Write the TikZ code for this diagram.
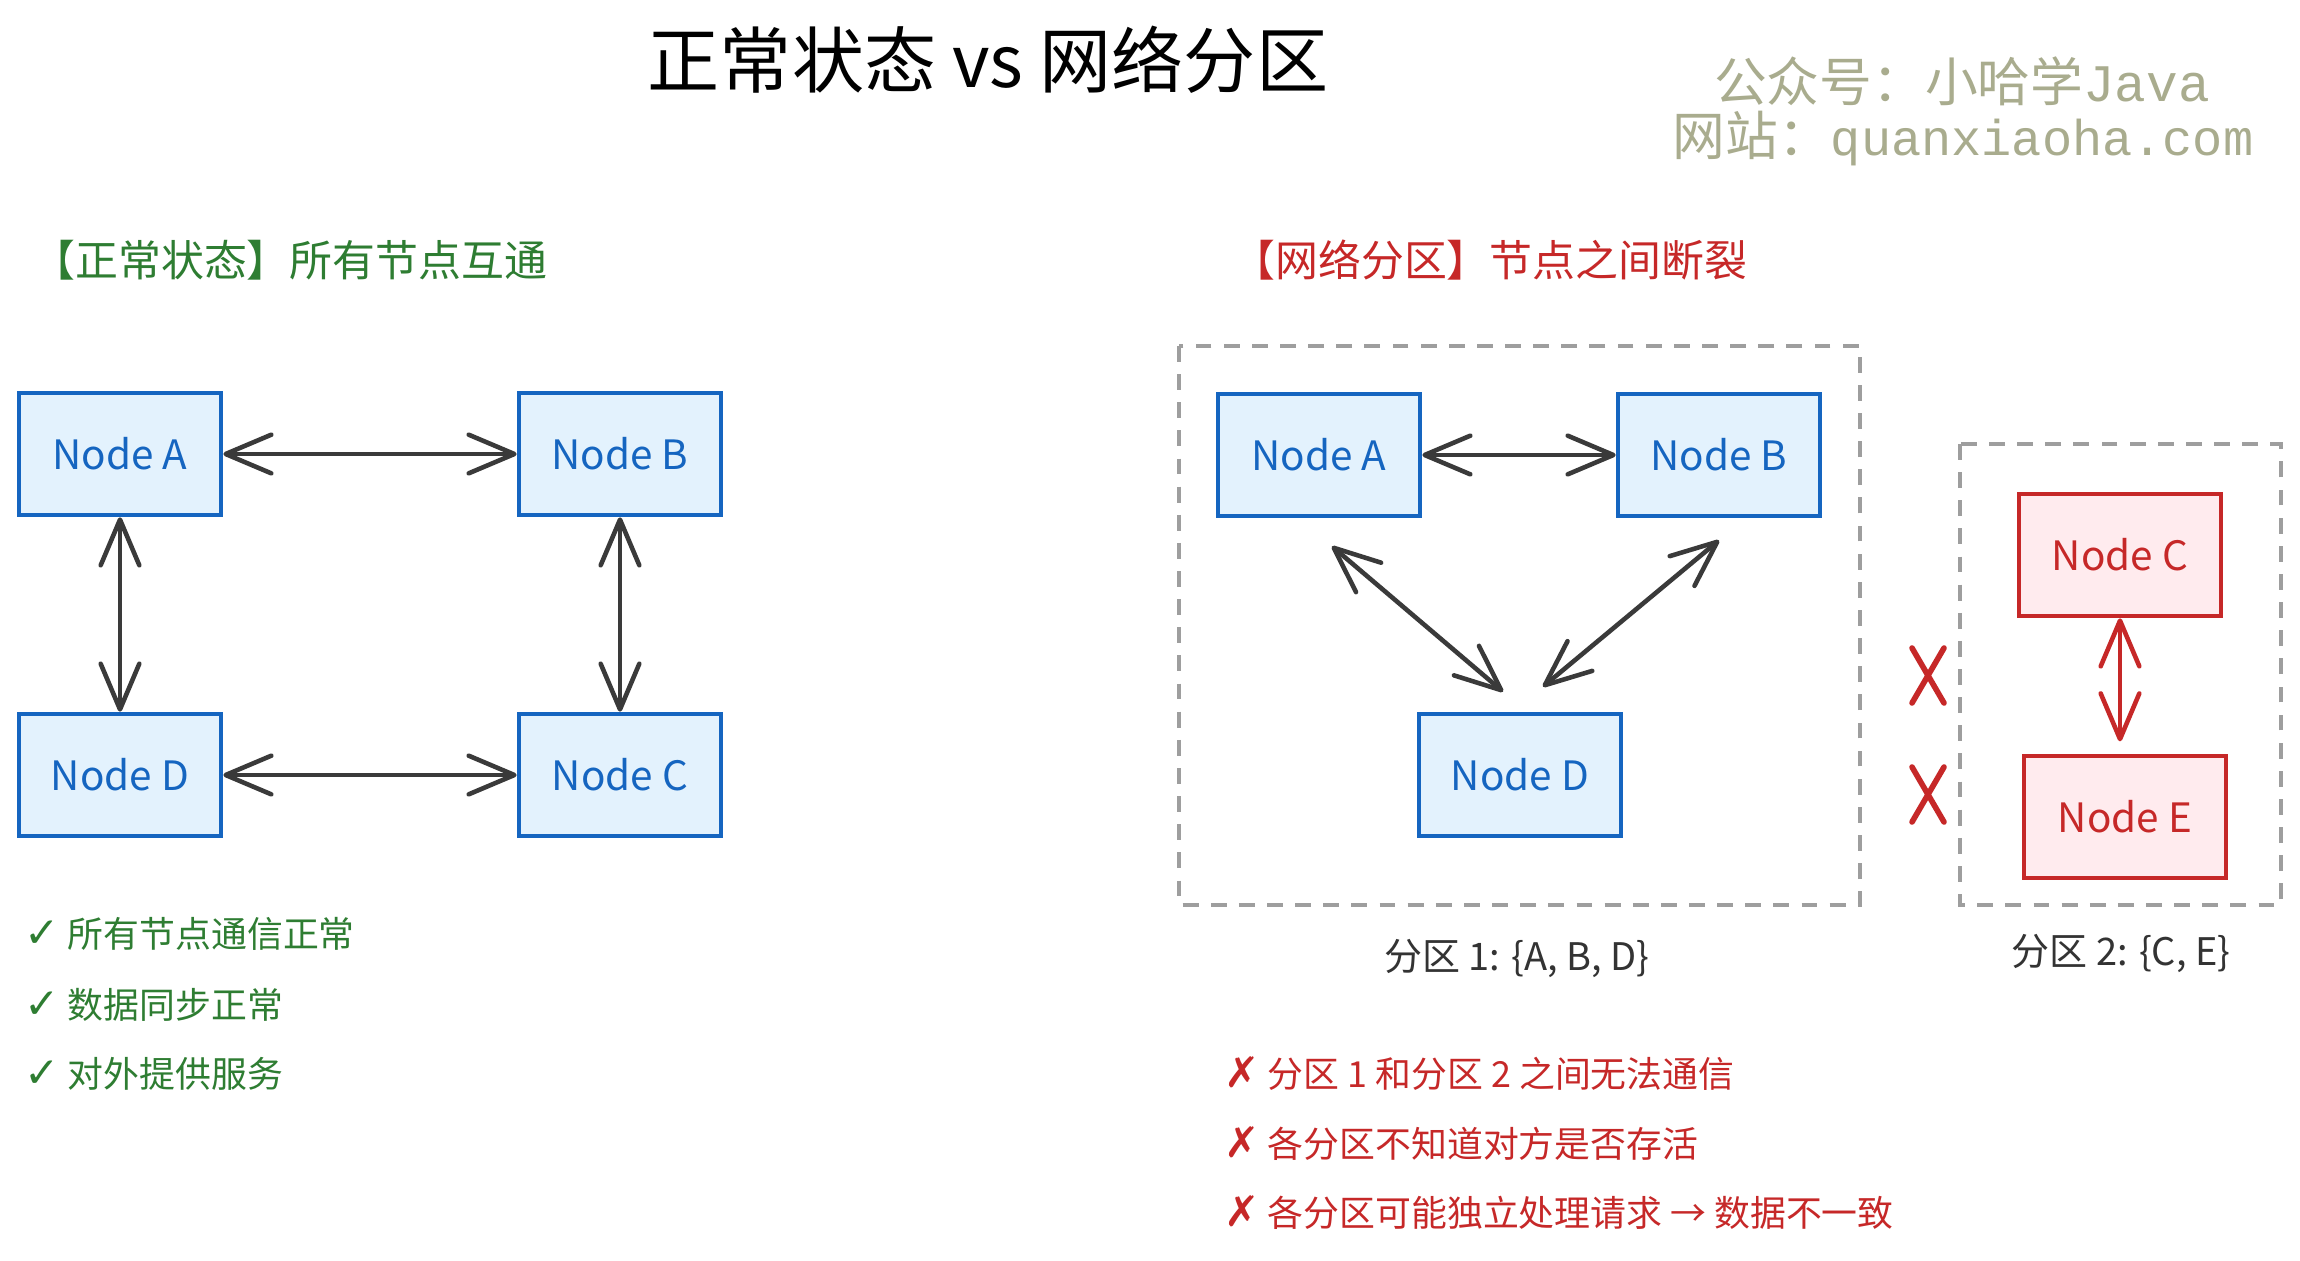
\documentclass[tikz,border=0pt]{standalone}
\usepackage{fontspec}
\setmainfont{Noto Sans CJK SC}
\newfontfamily\symfont{DejaVu Sans}
\newfontfamily\wmmono{Liberation Mono}
\usetikzlibrary{arrows.meta,calc}
\definecolor{nodeblue}{HTML}{1565C0}
\definecolor{bluefill}{HTML}{E3F2FD}
\definecolor{nodered}{HTML}{C62828}
\definecolor{redfill}{HTML}{FFEBEE}
\definecolor{okgreen}{HTML}{2E7D32}
\definecolor{arrgray}{HTML}{3A3A3A}
\definecolor{dashgray}{HTML}{9E9E9E}
\definecolor{wmcolor}{HTML}{A9AC8E}
\definecolor{labgray}{HTML}{333333}
\tikzset{
  nodebox/.style={line width=1.3pt, minimum width=2.02cm, minimum height=1.22cm, font=\fontsize{11.5}{14}\selectfont},
  bluebox/.style={nodebox, draw=nodeblue, fill=bluefill, text=nodeblue},
  redbox/.style={nodebox, draw=nodered, fill=redfill, text=nodered},
  arr/.style={draw=arrgray, line width=1.3pt, line cap=round,
    {Straight Barb[length=13pt,width=11pt,round]}-{Straight Barb[length=13pt,width=11pt,round]}},
  redarr/.style={arr, draw=nodered},
  dashbox/.style={draw=dashgray, line width=0.9pt, dash pattern=on 4.5pt off 3.5pt},
  heading/.style={anchor=west, font=\fontsize{12.2}{14}\selectfont},
  listtxt/.style={anchor=west, font=\fontsize{10.2}{12}\selectfont},
  parttxt/.style={text=labgray, font=\fontsize{10.8}{12}\selectfont},
  wm/.style={text=wmcolor, font=\fontsize{15}{17}\selectfont},
  xmark/.style={draw=nodered, line width=1.6pt, line cap=round}
}
\begin{document}
\begin{tikzpicture}[x=0.01cm,y=-0.01cm]
\useasboundingbox[fill=white] (0,0) rectangle (2300,1260);

% title and watermark
\node[font=\fontsize{20.5}{24}\selectfont, text=black] (title) at (988,60) {正常状态 vs 网络分区};
\node[wm] (wm1) at (1962,81) {公众号：小哈学{\wmmono Java}};
\node[wm] (wm2) at (1963,139) {网站：{\wmmono\fontsize{14.3}{17}\selectfont quanxiaoha.com}};

% headings
\node[heading, text=okgreen] (hleft) at (20,260) {【正常状态】所有节点互通};
\node[heading, text=nodered] (hright) at (1220,260) {【网络分区】节点之间断裂};

% left: normal state
\node[bluebox] (lA) at (120,454) {Node A};
\node[bluebox] (lB) at (620,454) {Node B};
\node[bluebox] (lD) at (120,775) {Node D};
\node[bluebox] (lC) at (620,775) {Node C};
\draw[arr] (lA.east) -- (lB.west);
\draw[arr] (lD.east) -- (lC.west);
\draw[arr] (lA.south) -- (lD.north);
\draw[arr] (lB.south) -- (lC.north);

\node[listtxt, text=okgreen] (ok1) at (12,934) {{\symfont\fontsize{12}{12}\selectfont ✓} 所有节点通信正常};
\node[listtxt, text=okgreen] (ok2) at (12,1005) {{\symfont\fontsize{12}{12}\selectfont ✓} 数据同步正常};
\node[listtxt, text=okgreen] (ok3) at (12,1074) {{\symfont\fontsize{12}{12}\selectfont ✓} 对外提供服务};

% right: partition
\draw[dashbox] (1179,346) rectangle (1860,905);
\draw[dashbox] (1960,444) rectangle (2281,905);

\node[bluebox] (rA) at (1319,455) {Node A};
\node[bluebox] (rB) at (1719,455) {Node B};
\node[bluebox] (rD) at (1520,775) {Node D};
\draw[arr] (rA.east) -- (rB.west);
\draw[arr] ($(rA.south)+(13,28)$) -- ($(rD.north)+(-17,-20)$);
\draw[arr] ($(rB.south)+(0,22)$) -- ($(rD.north)+(23,-25)$);

\node[redbox] (rC) at (2120,555) {Node C};
\node[redbox] (rE) at (2125,817) {Node E};
\draw[redarr, shorten >=3.5pt] (rC.south) -- (rC.south |- rE.north);

% cut marks
\draw[xmark] (1912,648) -- (1944,703) (1944,648) -- (1912,703);
\draw[xmark] (1912,767) -- (1944,822) (1944,767) -- (1912,822);

\node[parttxt] (p1) at (1517,958) {分区 1: \{A, B, D\}};
\node[parttxt] (p2) at (2121,953) {分区 2: \{C, E\}};

\node[listtxt, text=nodered] (bad1) at (1212,1074) {{\symfont\fontsize{12}{12}\selectfont ✗} 分区 1 和分区 2 之间无法通信};
\node[listtxt, text=nodered] (bad2) at (1212,1144) {{\symfont\fontsize{12}{12}\selectfont ✗} 各分区不知道对方是否存活};
\node[listtxt, text=nodered] (bad3) at (1212,1213) {{\symfont\fontsize{12}{12}\selectfont ✗} 各分区可能独立处理请求 → 数据不一致};
\end{tikzpicture}
\end{document}
